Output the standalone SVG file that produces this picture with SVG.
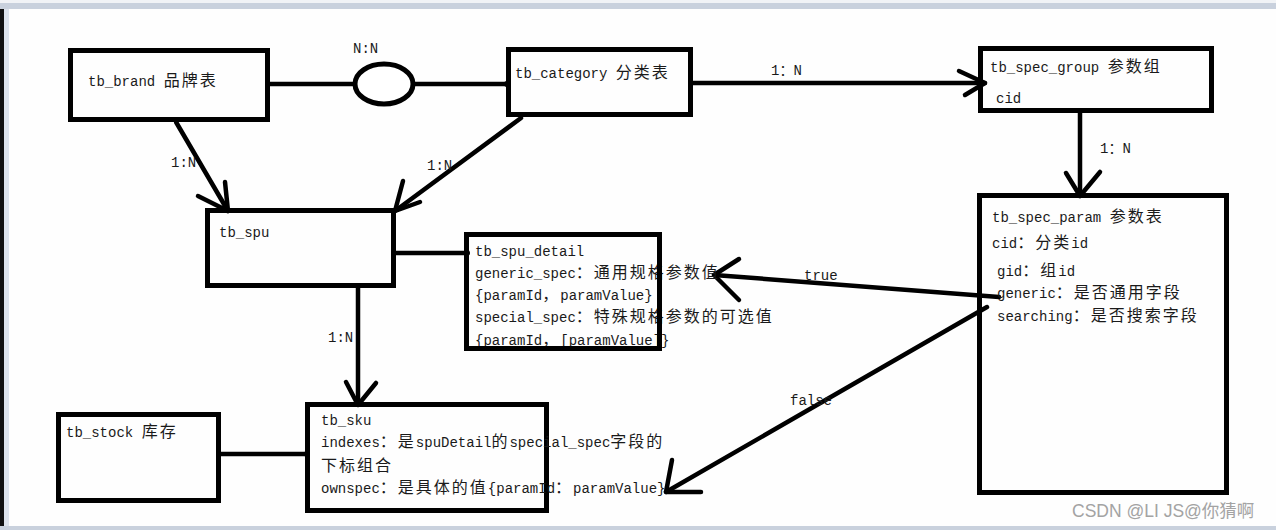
<svg xmlns="http://www.w3.org/2000/svg" width="1276" height="530" viewBox="0 0 1276 530">
<style>
.box{fill:none;stroke:#000;stroke-width:5}
.ln{fill:none;stroke:#000;stroke-width:4.5;stroke-linecap:round;stroke-linejoin:round}
.t{font-family:"Liberation Mono","Noto Sans CJK SC",monospace;font-size:14px;fill:#1a1a1a}
.c{font-family:"Noto Sans CJK SC",sans-serif;font-size:16px;letter-spacing:2px}
.wm{font-family:"Liberation Sans","Noto Sans CJK SC",sans-serif;font-size:17.5px;fill:#a3a3a3}
</style>
<rect x="0" y="0" width="1276" height="530" fill="#fefefe"/>
<g id="frame">
<rect x="0" y="0" width="1276" height="3" fill="#f1f3f6"/>
<rect x="0" y="3" width="1276" height="6" fill="#c9d1dd"/>
<rect x="0" y="9" width="4" height="521" fill="#111"/>
<rect x="4" y="9" width="5" height="517" fill="#dde3ec"/>
<rect x="0" y="526" width="1276" height="4" fill="#c9d1dd"/>
</g>
<g id="connectors">
<line class="ln" x1="270" y1="84" x2="355" y2="84"/>
<line class="ln" x1="413" y1="84" x2="507" y2="84"/>
<circle cx="507" cy="84" r="3"/>
<line class="ln" x1="693" y1="83" x2="985" y2="83"/>
<polyline class="ln" points="959,71 985,83 965,95"/>
<line class="ln" x1="1080" y1="113" x2="1080" y2="196"/>
<polyline class="ln" points="1066,173 1080,196 1100,172"/>
<line class="ln" x1="176" y1="122" x2="228" y2="211"/>
<polyline class="ln" points="198,196 228,211 225,182"/>
<line class="ln" x1="521" y1="118" x2="395" y2="211"/>
<polyline class="ln" points="403,181 395,211 420,202"/>
<line class="ln" x1="396" y1="253" x2="467" y2="253"/>
<circle cx="467" cy="253" r="3"/>
<line class="ln" x1="358" y1="288" x2="358" y2="404"/>
<polyline class="ln" points="346,382 358,405 376,383"/>
<line class="ln" x1="221" y1="454" x2="307" y2="454"/>
<circle cx="307" cy="454" r="3"/>
<line class="ln" x1="999" y1="297" x2="714" y2="275"/>
<polyline class="ln" points="739,259 714,275 739,300"/>
<line class="ln" x1="987" y1="307" x2="666" y2="492"/>
<polyline class="ln" points="672,460 666,492 701,492"/>
<text class="t" x="353" y="53">N:N</text>
<text class="t" x="771" y="75">1：N</text>
<text class="t" x="1100" y="153">1：N</text>
<text class="t" x="171" y="167">1:N</text>
<text class="t" x="427" y="170">1:N</text>
<text class="t" x="328" y="342">1:N</text>
<text class="t" x="804" y="280">true</text>
<text class="t" x="790" y="405">false</text>
</g>
<g id="rel-nn">
<ellipse cx="384" cy="84" rx="29" ry="20" fill="#fff" stroke="#000" stroke-width="5"/>
</g>
<g id="tb_brand">
<rect class="box" x="70.5" y="50.5" width="197" height="69"/>
<text class="t" x="88" y="86">tb_brand <tspan class="c">品牌表</tspan></text>
</g>
<g id="tb_category">
<rect class="box" x="508.5" y="49.5" width="182" height="65"/>
<text class="t" x="515" y="78">tb_category <tspan class="c">分类表</tspan></text>
</g>
<g id="tb_spec_group">
<rect class="box" x="980.5" y="48.5" width="231" height="62"/>
<text class="t" x="990" y="72">tb_spec_group <tspan class="c">参数组</tspan></text>
<text class="t" x="996" y="103">cid</text>
</g>
<g id="tb_spec_param">
<rect class="box" x="979.5" y="195.5" width="247" height="297"/>
<text class="t" x="992" y="222">tb_spec_param <tspan class="c">参数表</tspan></text>
<text class="t" x="992" y="248">cid<tspan class="c">：分类</tspan>id</text>
<text class="t" x="997" y="276">gid<tspan class="c">：组</tspan>id</text>
<text class="t" x="997" y="298">generic<tspan class="c">：是否通用字段</tspan></text>
<text class="t" x="997" y="321">searching<tspan class="c">：是否搜索字段</tspan></text>
</g>
<g id="tb_spu">
<rect class="box" x="207.5" y="210.5" width="186" height="75"/>
<text class="t" x="219" y="237">tb_spu</text>
</g>
<g id="tb_spu_detail">
<text class="t" x="475" y="256">tb_spu_detail</text>
<text class="t" x="475" y="278">generic_spec<tspan class="c">：通用规格参数值</tspan></text>
<text class="t" x="475" y="300">{paramId<tspan class="c">，</tspan>paramValue}</text>
<text class="t" x="475" y="322">special_spec<tspan class="c">：特殊规格参数的可选值</tspan></text>
<text class="t" x="475" y="345">{paramId<tspan class="c">，</tspan>[paramValue]}</text>
<rect class="box" x="466.5" y="234.5" width="193" height="114"/>
</g>
<g id="tb_sku">
<rect class="box" x="307.5" y="404.5" width="239" height="106"/>
<text class="t" x="321" y="425">tb_sku</text>
<text class="t" x="321" y="447">indexes<tspan class="c">：是</tspan>spuDetail<tspan class="c">的</tspan>special_spec<tspan class="c">字段的</tspan></text>
<text class="t" x="321" y="471"><tspan class="c">下标组合</tspan></text>
<text class="t" x="321" y="493">ownspec<tspan class="c">：是具体的值</tspan>{paramId<tspan class="c">：</tspan>paramValue}</text>
</g>
<g id="tb_stock">
<rect class="box" x="58.5" y="414.5" width="160" height="86"/>
<text class="t" x="66" y="437">tb_stock <tspan class="c">库存</tspan></text>
</g>
<text class="wm" x="1072" y="517">CSDN @LI JS@你猜啊</text>
</svg>
